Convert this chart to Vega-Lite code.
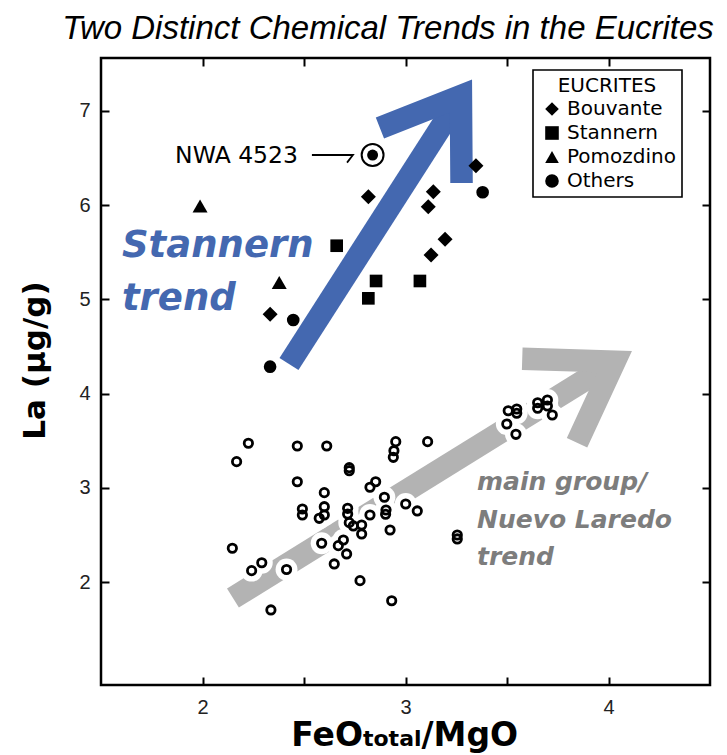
{
  "$schema": "https://vega.github.io/schema/vega-lite/v6.json",
  "width": 609,
  "height": 627,
  "autosize": {"type": "none"},
  "padding": {"left": 101, "top": 58, "right": 17, "bottom": 70},
  "background": "white",
  "config": {
    "view": {"stroke": "black", "strokeWidth": 2.5},
    "axis": {"grid": false, "domain": false},
    "legend": {"strokeWidth": 1.6}
  },
  "datasets": {
    "open": [
      {"x":2.226,"y":3.474},{"x":2.168,"y":3.279},{"x":2.467,"y":3.445},{"x":2.612,"y":3.445},
      {"x":2.952,"y":3.491},{"x":2.943,"y":3.395},{"x":2.940,"y":3.325},{"x":3.109,"y":3.491},
      {"x":2.723,"y":3.215},{"x":2.723,"y":3.183},{"x":2.467,"y":3.066},{"x":2.600,"y":2.950},
      {"x":2.853,"y":3.066},{"x":2.825,"y":3.007},{"x":2.896,"y":2.901},{"x":2.492,"y":2.777},
      {"x":2.492,"y":2.713},{"x":2.600,"y":2.801},{"x":2.600,"y":2.713},{"x":2.575,"y":2.678},
      {"x":2.715,"y":2.784},{"x":2.715,"y":2.724},{"x":2.723,"y":2.632},{"x":2.743,"y":2.597},
      {"x":2.784,"y":2.607},{"x":2.784,"y":2.512},{"x":2.825,"y":2.713},{"x":2.904,"y":2.766},
      {"x":2.902,"y":2.721},{"x":3.001,"y":2.830},{"x":3.058,"y":2.756},{"x":2.924,"y":2.554},
      {"x":2.587,"y":2.413},{"x":2.694,"y":2.448},{"x":2.669,"y":2.388},{"x":2.710,"y":2.300},
      {"x":2.147,"y":2.360},{"x":2.292,"y":2.207},{"x":2.242,"y":2.123},{"x":2.414,"y":2.135},
      {"x":2.649,"y":2.194},{"x":2.776,"y":2.017},{"x":2.337,"y":1.706},{"x":2.932,"y":1.804},
      {"x":3.255,"y":2.501},{"x":3.255,"y":2.459},{"x":3.506,"y":3.819},{"x":3.548,"y":3.837},
      {"x":3.548,"y":3.792},{"x":3.499,"y":3.678},{"x":3.544,"y":3.569},{"x":3.651,"y":3.904},
      {"x":3.651,"y":3.845},{"x":3.699,"y":3.933},{"x":3.699,"y":3.869},{"x":3.723,"y":3.774}
    ],
    "pointed": [
      {"type":"Bouvante","x":2.817,"y":6.089},{"type":"Bouvante","x":2.333,"y":4.842},
      {"type":"Bouvante","x":3.137,"y":6.142},{"type":"Bouvante","x":3.112,"y":5.983},
      {"type":"Bouvante","x":3.195,"y":5.637},{"type":"Bouvante","x":3.126,"y":5.471},
      {"type":"Bouvante","x":3.347,"y":6.418},
      {"type":"Pomozdino","x":1.988,"y":5.99},{"type":"Pomozdino","x":2.378,"y":5.18}
    ],
    "blocky": [
      {"type":"Stannern","x":2.661,"y":5.569},{"type":"Stannern","x":2.855,"y":5.195},
      {"type":"Stannern","x":2.817,"y":5.011},{"type":"Stannern","x":3.071,"y":5.195},
      {"type":"Others","x":2.447,"y":4.781},{"type":"Others","x":2.333,"y":4.286},
      {"type":"Others","x":3.380,"y":6.136}
    ],
    "nwa": [{"x": 2.838, "y": 6.531}]
  },
  "layer": [
    {
      "data": {"values": [
        {"seg":"b1","arrow":"stannern","ord":1,"x":2.426,"y":4.315},
        {"seg":"b1","arrow":"stannern","ord":2,"x":3.273,"y":7.157},
        {"seg":"b2","arrow":"stannern","ord":1,"x":2.874,"y":6.818},
        {"seg":"b2","arrow":"stannern","ord":2,"x":3.273,"y":7.157},
        {"seg":"b2","arrow":"stannern","ord":3,"x":3.276,"y":6.234},
        {"seg":"g1","arrow":"main","ord":1,"x":2.150,"y":1.833},
        {"seg":"g1","arrow":"main","ord":2,"x":4.03,"y":4.34},
        {"seg":"g2","arrow":"main","ord":1,"x":3.575,"y":4.37},
        {"seg":"g2","arrow":"main","ord":2,"x":4.03,"y":4.34},
        {"seg":"g2","arrow":"main","ord":3,"x":3.845,"y":3.48}
      ]},
      "mark": {"type": "line", "strokeWidth": 22.5, "strokeCap": "butt", "strokeJoin": "miter", "strokeMiterLimit": 10},
      "encoding": {
        "x": {"field": "x", "type": "quantitative", "scale": {"domain": [1.5, 4.5], "nice": false, "zero": false}, "axis": null},
        "y": {"field": "y", "type": "quantitative", "scale": {"domain": [0.91, 7.56], "nice": false, "zero": false}, "axis": null},
        "color": {"field": "arrow", "type": "nominal", "scale": {"domain": ["stannern", "main"], "range": ["#4468b0", "#b3b3b3"]}, "legend": null},
        "detail": {"field": "seg"},
        "order": {"field": "ord", "type": "quantitative"}
      }
    },
    {
      "data": {"name": "open"},
      "mark": {"type": "point", "shape": "circle", "filled": true, "color": "white", "size": 480, "opacity": 1},
      "encoding": {
        "x": {"field": "x", "type": "quantitative", "scale": {"domain": [1.5, 4.5], "nice": false, "zero": false}, "axis": {"orient": "top", "labels": false, "title": null, "values": [2, 2.5, 3, 3.5, 4], "tickSize": -8, "tickWidth": 2, "tickColor": "black"}},
        "y": {"field": "y", "type": "quantitative", "scale": {"domain": [0.91, 7.56], "nice": false, "zero": false}, "axis": {"orient": "right", "labels": false, "title": null, "values": [2, 3, 4, 5, 6, 7], "tickSize": -8, "tickWidth": 2, "tickColor": "black"}}
      }
    },
    {
      "data": {"name": "open"},
      "mark": {"type": "point", "shape": "circle", "filled": false, "stroke": "black", "strokeWidth": 2.8, "size": 70, "opacity": 1},
      "encoding": {
        "x": {"field": "x", "type": "quantitative", "scale": {"domain": [1.5, 4.5], "nice": false, "zero": false}, "axis": {"orient": "bottom", "values": [2, 2.5, 3, 3.5, 4], "labelExpr": "datum.value == 2 ? '2' : datum.value == 3 ? '3' : datum.value == 4 ? '4' : ''", "tickSize": -8, "tickWidth": 2, "tickColor": "black", "labelPadding": 20, "labelFont": "Liberation Sans", "labelFontSize": 20, "labelColor": "#222222", "title": null}},
        "y": {"field": "y", "type": "quantitative", "scale": {"domain": [0.91, 7.56], "nice": false, "zero": false}, "axis": {"orient": "left", "values": [2, 3, 4, 5, 6, 7], "labelExpr": "datum.label", "tickSize": -8, "tickWidth": 2, "tickColor": "black", "labelPadding": 19, "labelFont": "Liberation Sans", "labelFontSize": 20, "labelColor": "#222222", "title": "La (µg/g)", "titleFont": "DejaVu Sans", "titleFontWeight": "bold", "titleFontSize": 31, "titleColor": "black", "titleX": -66, "titleY": 302, "titleBaseline": "middle", "titleAlign": "center", "titleAngle": -90}}
      }
    },
    {
      "data": {"name": "pointed"},
      "mark": {"type": "point", "filled": true, "color": "black", "opacity": 1, "size": 225},
      "encoding": {
        "x": {"field": "x", "type": "quantitative", "scale": {"domain": [1.5, 4.5], "nice": false, "zero": false}, "axis": null},
        "y": {"field": "y", "type": "quantitative", "scale": {"domain": [0.91, 7.56], "nice": false, "zero": false}, "axis": null},
        "shape": {"field": "type", "type": "nominal",
          "scale": {"domain": ["Bouvante", "Stannern", "Pomozdino", "Others"], "range": ["diamond", "square", "triangle-up", "circle"]},
          "legend": {"title": "EUCRITES", "orient": "none", "legendX": 432, "legendY": 12,
            "strokeColor": "black", "fillColor": "white", "padding": 6,
            "titleAnchor": "middle", "titleFont": "DejaVu Sans", "titleFontSize": 20, "titleFontWeight": "normal", "titleColor": "black", "titlePadding": 3,
            "labelFont": "DejaVu Sans", "labelFontSize": 20, "labelColor": "black", "labelOffset": 5,
            "symbolSize": 185, "symbolFillColor": "black", "symbolStrokeColor": "black", "symbolOffset": 3, "rowPadding": 4}}
      }
    },
    {
      "data": {"name": "blocky"},
      "mark": {"type": "point", "filled": true, "color": "black", "opacity": 1, "size": 160},
      "encoding": {
        "x": {"field": "x", "type": "quantitative", "scale": {"domain": [1.5, 4.5], "nice": false, "zero": false}, "axis": null},
        "y": {"field": "y", "type": "quantitative", "scale": {"domain": [0.91, 7.56], "nice": false, "zero": false}, "axis": null},
        "shape": {"field": "type", "type": "nominal", "scale": {"domain": ["Bouvante", "Stannern", "Pomozdino", "Others"], "range": ["diamond", "square", "triangle-up", "circle"]}}
      }
    },
    {
      "data": {"name": "nwa"},
      "mark": {"type": "point", "shape": "circle", "filled": false, "fill": "white", "stroke": "black", "strokeWidth": 2, "size": 480, "opacity": 1},
      "encoding": {
        "x": {"field": "x", "type": "quantitative", "scale": {"domain": [1.5, 4.5], "nice": false, "zero": false}, "axis": null},
        "y": {"field": "y", "type": "quantitative", "scale": {"domain": [0.91, 7.56], "nice": false, "zero": false}, "axis": null}
      }
    },
    {
      "data": {"name": "nwa"},
      "mark": {"type": "point", "shape": "circle", "filled": true, "color": "black", "size": 120, "opacity": 1},
      "encoding": {
        "x": {"field": "x", "type": "quantitative", "scale": {"domain": [1.5, 4.5], "nice": false, "zero": false}, "axis": null},
        "y": {"field": "y", "type": "quantitative", "scale": {"domain": [0.91, 7.56], "nice": false, "zero": false}, "axis": null}
      }
    },
    {
      "data": {"values": [
        {"ord":1,"x":2.539,"y":6.531},{"ord":2,"x":2.741,"y":6.531},{"ord":3,"x":2.712,"y":6.45}
      ]},
      "mark": {"type": "line", "color": "black", "strokeWidth": 1.8, "strokeJoin": "miter"},
      "encoding": {
        "x": {"field": "x", "type": "quantitative", "scale": {"domain": [1.5, 4.5], "nice": false, "zero": false}, "axis": null},
        "y": {"field": "y", "type": "quantitative", "scale": {"domain": [0.91, 7.56], "nice": false, "zero": false}, "axis": null},
        "order": {"field": "ord", "type": "quantitative"}
      }
    },
    {
      "data": {"values": [{"t": "Two Distinct Chemical Trends in the Eucrites", "x": 2.914, "y": 7.762}]},
      "mark": {"type": "text", "font": "Liberation Sans", "fontSize": 33, "fontStyle": "italic", "color": "black", "align": "center", "baseline": "alphabetic"},
      "encoding": {
        "x": {"field": "x", "type": "quantitative", "scale": {"domain": [1.5, 4.5], "nice": false, "zero": false}, "axis": null},
        "y": {"field": "y", "type": "quantitative", "scale": {"domain": [0.91, 7.56], "nice": false, "zero": false}, "axis": null},
        "text": {"field": "t"}
      }
    },
    {
      "data": {"values": [{"t": "NWA 4523", "x": 1.865, "y": 6.446}]},
      "mark": {"type": "text", "font": "DejaVu Sans", "fontSize": 23.5, "color": "black", "align": "left", "baseline": "alphabetic"},
      "encoding": {
        "x": {"field": "x", "type": "quantitative", "scale": {"domain": [1.5, 4.5], "nice": false, "zero": false}, "axis": null},
        "y": {"field": "y", "type": "quantitative", "scale": {"domain": [0.91, 7.56], "nice": false, "zero": false}, "axis": null},
        "text": {"field": "t"}
      }
    },
    {
      "data": {"values": [{"t": "Stannern", "x": 1.603, "y": 5.45}, {"t": "trend", "x": 1.603, "y": 4.887}]},
      "mark": {"type": "text", "font": "DejaVu Sans", "fontSize": 37, "fontWeight": "bold", "fontStyle": "italic", "color": "#4468b0", "align": "left", "baseline": "alphabetic"},
      "encoding": {
        "x": {"field": "x", "type": "quantitative", "scale": {"domain": [1.5, 4.5], "nice": false, "zero": false}, "axis": null},
        "y": {"field": "y", "type": "quantitative", "scale": {"domain": [0.91, 7.56], "nice": false, "zero": false}, "axis": null},
        "text": {"field": "t"}
      }
    },
    {
      "data": {"values": [{"t": "main group/", "x": 3.352, "y": 2.978}, {"t": "Nuevo Laredo", "x": 3.352, "y": 2.575}, {"t": "trend", "x": 3.352, "y": 2.183}]},
      "mark": {"type": "text", "font": "DejaVu Sans", "fontSize": 25, "fontWeight": "bold", "fontStyle": "italic", "color": "#7d7d7d", "align": "left", "baseline": "alphabetic"},
      "encoding": {
        "x": {"field": "x", "type": "quantitative", "scale": {"domain": [1.5, 4.5], "nice": false, "zero": false}, "axis": null},
        "y": {"field": "y", "type": "quantitative", "scale": {"domain": [0.91, 7.56], "nice": false, "zero": false}, "axis": null},
        "text": {"field": "t"}
      }
    },
    {
      "data": {"values": [{"t": "FeO", "x": 2.7906, "y": 0.263}, {"t": "/MgO", "x": 3.0788, "y": 0.263}]},
      "mark": {"type": "text", "font": "DejaVu Sans", "fontSize": 33, "fontWeight": "bold", "color": "black", "baseline": "alphabetic", "align": {"expr": "datum.t === 'FeO' ? 'right' : 'left'"}},
      "encoding": {
        "x": {"field": "x", "type": "quantitative", "scale": {"domain": [1.5, 4.5], "nice": false, "zero": false}, "axis": null},
        "y": {"field": "y", "type": "quantitative", "scale": {"domain": [0.91, 7.56], "nice": false, "zero": false}, "axis": null},
        "text": {"field": "t"}
      }
    },
    {
      "data": {"values": [{"t": "total", "x": 2.7906, "y": 0.263}]},
      "mark": {"type": "text", "font": "DejaVu Sans", "fontSize": 22, "fontWeight": "bold", "color": "black", "baseline": "alphabetic", "align": "left"},
      "encoding": {
        "x": {"field": "x", "type": "quantitative", "scale": {"domain": [1.5, 4.5], "nice": false, "zero": false}, "axis": null},
        "y": {"field": "y", "type": "quantitative", "scale": {"domain": [0.91, 7.56], "nice": false, "zero": false}, "axis": null},
        "text": {"field": "t"}
      }
    }
  ],
  "resolve": {"axis": {"x": "independent", "y": "independent"}}
}
